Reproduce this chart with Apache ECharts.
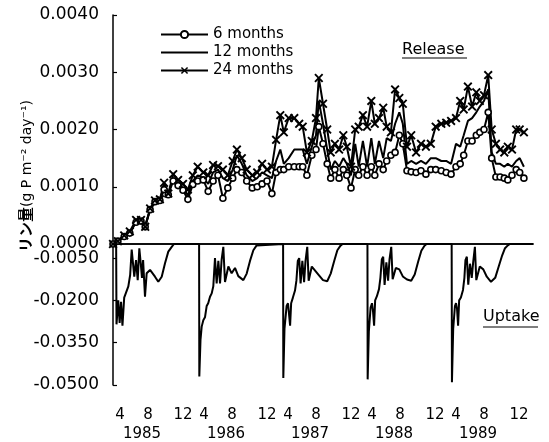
<!DOCTYPE html>
<html>
<head>
<meta charset="utf-8">
<script src="https://cdn.jsdelivr.net/npm/echarts@6/dist/echarts.min.js"></script>
<style>
  html, body { margin: 0; padding: 0; background: #fff; }
  #chart { width: 549px; height: 442px; }
</style>
</head>
<body>
<div id="chart"></div>
<script>
// release, unit 10^-3 g P m-2 day-1, time in months from Jan 1985
var releaseTime = [0, 0.7, 1.6, 2.4, 3.3, 4.0, 4.6, 5.3, 6.0, 6.7, 7.3, 7.9, 8.6, 9.3, 10.0, 10.7, 11.4,
    12.1, 12.9, 13.6, 14.3, 15.0, 15.7, 16.4, 17.1, 17.7, 18.4, 19.1, 19.9, 20.6, 21.3, 22.0, 22.7, 23.3, 23.9,
    24.4, 25.1, 25.9, 26.6, 27.1, 27.7, 28.4, 29.0, 29.4, 30.0, 30.6, 31.1, 31.7, 32.3, 32.9, 33.4, 34.0, 34.6, 35.1, 35.7,
    36.3, 36.9, 37.4, 38.0, 38.6, 39.1, 39.7, 40.3, 40.9, 41.4, 42.0, 42.6, 43.3, 44.0, 44.7, 45.4, 46.1, 46.9, 47.6,
    48.3, 49.0, 49.6, 50.1, 50.7, 51.3, 51.9, 52.4, 53.0, 53.6, 54.1, 54.7, 55.3, 55.9, 56.4, 57.0, 57.6, 58.1, 58.7];
var release24 = [0, 0.05, 0.15, 0.22, 0.42, 0.42, 0.3, 0.62, 0.76, 0.78, 1.07, 0.88, 1.22, 1.12, 1.05, 0.95, 1.2,
    1.35, 1.25, 1.2, 1.38, 1.36, 1.3, 1.2, 1.45, 1.65, 1.5, 1.3, 1.2, 1.25, 1.4, 1.3, 1.35, 1.82, 2.25,
    1.95, 2.2, 2.2, 2.1, 2.05, 1.6, 1.8, 2.2, 2.9, 2.45, 2.0, 1.6, 1.75, 1.65, 1.9, 1.7, 1.35, 2.0, 2.05, 2.25,
    2.05, 2.5, 2.1, 2.2, 2.38, 2.05, 1.95, 2.7, 2.55, 2.45, 1.7, 1.9, 1.6, 1.75, 1.7, 1.75, 2.05, 2.1, 2.12,
    2.15, 2.2, 2.5, 2.35, 2.75, 2.4, 2.65, 2.5, 2.6, 2.95, 2.0, 1.75, 1.65, 1.6, 1.7, 1.65, 2.0, 2.0, 1.95];
var release12 = [0, 0.05, 0.14, 0.2, 0.4, 0.42, 0.32, 0.6, 0.75, 0.78, 1.0, 0.88, 1.15, 1.06, 0.98, 0.85, 1.1,
    1.2, 1.15, 1.05, 1.25, 1.3, 1.15, 1.1, 1.3, 1.55, 1.4, 1.2, 1.1, 1.15, 1.25, 1.2, 1.15, 1.45, 1.65,
    1.4, 1.5, 1.65, 1.65, 1.65, 1.4, 1.7, 1.9, 2.5, 2.1, 1.65, 1.3, 1.45, 1.35, 1.5, 1.4, 1.2, 1.75, 1.35, 1.8,
    1.35, 1.85, 1.4, 1.8, 1.5, 1.85, 1.8, 2.1, 2.3, 2.1, 1.4, 1.45, 1.4, 1.45, 1.4, 1.5, 1.5, 1.45, 1.45,
    1.4, 1.75, 1.7, 1.9, 2.15, 2.2, 2.3, 2.4, 2.5, 2.7, 1.6, 1.4, 1.4, 1.35, 1.4, 1.35, 1.45, 1.5, 1.35];
var release6 = [0, 0.05, 0.13, 0.19, 0.38, 0.4, 0.3, 0.6, 0.74, 0.76, 0.95, 0.86, 1.1, 1.02, 0.94, 0.78, 1.04,
    1.1, 1.12, 0.92, 1.1, 1.2, 0.8, 0.98, 1.15, 1.3, 1.25, 1.1, 0.98, 1.0, 1.05, 1.1, 0.88, 1.25, 1.3,
    1.3, 1.35, 1.35, 1.35, 1.35, 1.2, 1.55, 1.65, 2.05, 1.75, 1.4, 1.15, 1.3, 1.15, 1.3, 1.2, 0.98, 1.3, 1.2, 1.35,
    1.2, 1.35, 1.2, 1.4, 1.3, 1.45, 1.55, 1.6, 1.9, 1.75, 1.28, 1.26, 1.25, 1.28, 1.22, 1.3, 1.3, 1.28, 1.25,
    1.22, 1.35, 1.4, 1.55, 1.8, 1.8, 1.9, 1.95, 2.0, 2.3, 1.5, 1.17, 1.17, 1.15, 1.12, 1.2, 1.3, 1.25, 1.15];

// uptake, same units
var uptakeTime = [
    0, 0.45, 0.5, 0.75, 0.95, 1.15, 1.35, 1.6, 1.86, 2.19, 2.45, 2.67, 2.85, 3.04, 3.29, 3.53, 3.76, 3.96, 4.14, 4.3,
    4.57, 4.81, 5.29, 6.0, 6.47, 6.96, 7.43, 7.9, 8.39, 8.71,
    12.3, 12.33, 12.5, 12.67, 12.9, 13.14, 13.38, 13.6, 13.86, 14.1, 14.33, 14.57, 14.81, 15.05, 15.29, 15.52, 15.76,
    16.0, 16.48, 16.95, 17.43, 17.9, 18.62, 19.1, 19.57, 20.05, 20.52, 20.8,
    24.3, 24.33, 24.5, 24.8, 25.0, 25.15, 25.3, 25.45, 25.7, 26.0, 26.2, 26.4, 26.6, 26.8, 27.05, 27.3, 27.5, 27.75,
    27.95, 28.4, 28.9, 29.4, 30.0, 30.6, 31.1, 31.6, 32.05, 32.5, 32.8,
    36.35, 36.38, 36.55, 36.8, 37.0, 37.15, 37.3, 37.45, 37.7, 38.0, 38.2, 38.4, 38.6, 38.8, 39.05, 39.3, 39.5, 39.75,
    39.95, 40.4, 40.9, 41.4, 42.0, 42.6, 43.1, 43.6, 44.05, 44.5, 44.8,
    48.38, 48.42, 48.6, 48.85, 49.0, 49.15, 49.3, 49.45, 49.7, 50.0, 50.2, 50.35, 50.55, 50.75, 51.0, 51.25, 51.45, 51.7,
    51.9, 52.4, 52.9, 53.4, 54.0, 54.6, 55.1, 55.6, 56.0, 56.4, 56.7, 60];
var uptakeValue = [
    0, 0, -28.5, -20, -28, -20.5, -29, -19, -18.7, -15, -11, -2, -1.5, -11.6, -5.7, -12.8, -1.5, -6.8, -12, -5.7,
    -18.7, -10.4, -9.2, -11.6, -13.4, -11.6, -6.8, -2.7, -1, 0,
    0, -47, -34, -29.3, -27, -26, -22, -21, -18.7, -17.5, -15, -5, -14, -6, -14, -5.5, -1,
    -13.5, -8, -10.4, -8.5, -11.4, -12.8, -10.5, -6, -2.2, -0.5, 0,
    0, -47.5, -30, -22, -21, -25, -29, -21, -19, -16.5, -13, -6, -5, -14, -6, -13.5, -6, -1,
    -13, -8, -9.5, -11, -12.8, -13.2, -10.5, -6, -2.2, -0.6, 0,
    0, -48, -31, -22.5, -21, -24, -29, -20, -18.5, -16, -12, -5.5, -4.5, -14.5, -6.5, -13, -5.5, -1,
    -12.5, -8.5, -9, -11.5, -12.6, -13.0, -10.8, -6.2, -2.4, -0.6, 0,
    0, -49, -30, -22, -21, -23, -29, -20, -19, -16.3, -12, -5.7, -4.5, -14.4, -7, -12, -6.5, -1,
    -12.8, -8, -9, -11.6, -13.4, -12, -8, -4, -1.5, -0.5, 0, 0];

var monthLabels = ['4', '8', '12', '4', '8', '12', '4', '8', '12', '4', '8', '12', '4', '8', '12'];
var yearLabels = ['1985', '1986', '1987', '1988', '1989'];
var releaseTicks = [0, 1, 2, 3, 4];
var uptakeTicks = [-50, -35, -20, -5];
var seriesNames = ['6 months', '12 months', '24 months'];

function pairs(xs, ys) {
    return xs.map(function (x, i) { return [x, ys[i]]; });
}

var font = '"DejaVu Sans", "Noto Sans CJK JP", sans-serif';
var black = '#000';
var crossPath = 'path://M0,1.5L1.5,0L5,3.5L8.5,0L10,1.5L6.5,5L10,8.5L8.5,10L5,6.5L1.5,10L0,8.5L3.5,5Z';

var myChart = echarts.init(document.getElementById('chart'), null, { renderer: 'canvas' });
var option = {
    animation: false,
    backgroundColor: '#fff',
    textStyle: { fontFamily: font, color: black },
    grid: [
        { left: 113, top: 15, width: 420, height: 229 },
        { left: 113, top: 244, width: 420, height: 141 }
    ],
    legend: {
        data: [
            { name: seriesNames[0] },
            { name: seriesNames[1], itemStyle: { opacity: 0 } },
            { name: seriesNames[2] }
        ],
        orient: 'vertical',
        left: 155,
        top: 22,
        itemWidth: 47,
        itemHeight: 9,
        itemGap: 3,
        textStyle: { fontSize: 15, fontFamily: font, color: black }
    },
    xAxis: [{
        gridIndex: 0,
        type: 'category',
        data: monthLabels,
        boundaryGap: true,
        axisLine: { lineStyle: { color: black, width: 1.5 } },
        axisTick: { inside: true, length: 4, lineStyle: { color: black, width: 1.2 } },
        axisLabel: { show: false },
        splitLine: { show: false }
    }, {
        gridIndex: 0,
        type: 'value',
        min: 0,
        max: 60,
        show: false
    }, {
        gridIndex: 1,
        type: 'category',
        data: monthLabels,
        boundaryGap: true,
        axisLine: { lineStyle: { color: black, width: 1.5 } },
        axisTick: { inside: true, length: 4, lineStyle: { color: black, width: 1.2 } },
        axisLabel: {
            interval: 0,
            margin: 21,
            color: black,
            formatter: function (val, idx) {
                if (val === '12') {
                    return '{c|12}';
                }
                if (val === '8') {
                    return '{b|8}\n{y|' + yearLabels[(idx - 1) / 3] + '}';
                }
                return '{a|' + val + '}';
            },
            rich: {
                a: { fontSize: 15, fontFamily: font, color: black, lineHeight: 19, padding: [0, 14, 0, 0] },
                b: { fontSize: 15, fontFamily: font, color: black, lineHeight: 19, padding: [0, 14, 0, 0] },
                c: { fontSize: 15, fontFamily: font, color: black, lineHeight: 19 },
                y: { fontSize: 15, fontFamily: font, color: black, lineHeight: 19, padding: [0, 26, 0, 0] }
            }
        },
        splitLine: { show: false }
    }, {
        gridIndex: 1,
        type: 'value',
        min: 0,
        max: 60,
        show: false
    }],
    yAxis: [{
        gridIndex: 0,
        type: 'value',
        min: 0,
        max: 4,
        interval: 1,
        axisLine: { show: true, lineStyle: { color: black, width: 1.5 } },
        axisTick: { show: true, inside: true, length: 4, lineStyle: { color: black, width: 1.2 } },
        axisLabel: {
            margin: 14,
            fontSize: 17,
            fontFamily: font,
            color: black,
            customValues: releaseTicks,
            formatter: function (v) { return (v / 1000).toFixed(4); }
        },
        splitLine: { show: false }
    }, {
        gridIndex: 1,
        type: 'value',
        min: -50,
        max: 0,
        axisLine: { show: true, lineStyle: { color: black, width: 1.5 } },
        axisTick: { show: true, inside: true, length: 4, customValues: uptakeTicks, lineStyle: { color: black, width: 1.2 } },
        axisLabel: {
            margin: 14,
            fontSize: 17,
            fontFamily: font,
            color: black,
            customValues: uptakeTicks,
            formatter: function (v) { return (v / 1000).toFixed(4); }
        },
        splitLine: { show: false }
    }],
    series: [{
        name: '6 months',
        type: 'line',
        xAxisIndex: 1,
        yAxisIndex: 0,
        data: pairs(releaseTime, release6),
        symbol: 'circle',
        symbolSize: 6,
        showAllSymbol: true,
        lineStyle: { color: black, width: 2 },
        itemStyle: { color: '#fff', borderColor: black, borderWidth: 1.6 }
    }, {
        name: '12 months',
        type: 'line',
        xAxisIndex: 1,
        yAxisIndex: 0,
        data: pairs(releaseTime, release12),
        symbol: 'none',
        lineStyle: { color: black, width: 2 },
        itemStyle: { color: black }
    }, {
        name: '24 months',
        type: 'line',
        xAxisIndex: 1,
        yAxisIndex: 0,
        data: pairs(releaseTime, release24),
        symbol: crossPath,
        symbolSize: 9,
        showAllSymbol: true,
        lineStyle: { color: black, width: 2 },
        itemStyle: { color: black }
    }, {
        name: 'uptake',
        type: 'line',
        xAxisIndex: 3,
        yAxisIndex: 1,
        data: pairs(uptakeTime, uptakeValue),
        symbol: 'none',
        lineStyle: { color: black, width: 2 }
    }],
    graphic: [{
        type: 'text',
        x: 27,
        y: 176,
        rotation: Math.PI / 2,
        style: {
            text: '{c|リン量}{l|(g P m⁻² day⁻¹)}',
            rich: {
                c: { fontSize: 15, fontWeight: 'bold', fontFamily: font, fill: black },
                l: { fontSize: 14, fontFamily: font, fill: black }
            },
            fill: black,
            align: 'center',
            verticalAlign: 'middle'
        }
    }, {
        type: 'text',
        x: 402,
        y: 50,
        style: { text: 'Release', font: '16px ' + font, fill: black, align: 'left', verticalAlign: 'middle' }
    }, {
        type: 'line',
        shape: { x1: 402, y1: 58, x2: 467, y2: 58 },
        style: { stroke: black, lineWidth: 1.2 }
    }, {
        type: 'text',
        x: 483,
        y: 317,
        style: { text: 'Uptake', font: '16px ' + font, fill: black, align: 'left', verticalAlign: 'middle' }
    }, {
        type: 'line',
        shape: { x1: 483, y1: 327, x2: 538, y2: 327 },
        style: { stroke: black, lineWidth: 1.2 }
    }]
};
myChart.setOption(option);
</script>
</body>
</html>
